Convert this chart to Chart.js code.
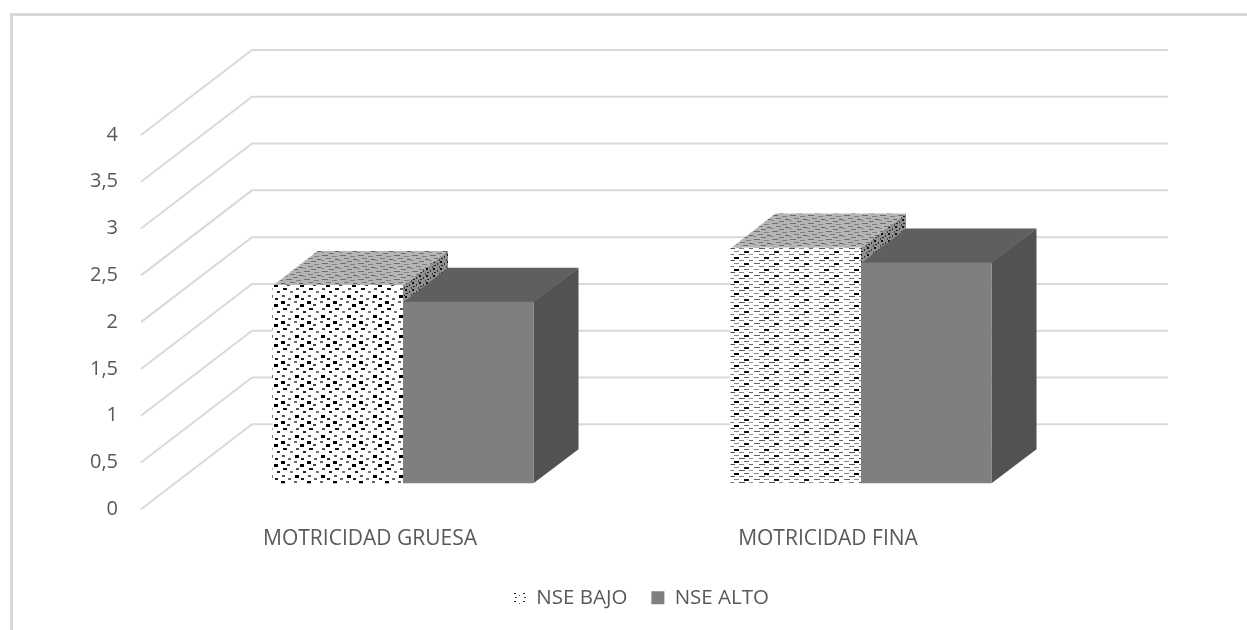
<!DOCTYPE html>
<html>
<head>
<meta charset="utf-8">
<title>Motricidad</title>
<script src="https://cdn.jsdelivr.net/npm/chart.js@4"></script>
<style>
    html, body { margin: 0; background: #fff; overflow: hidden; }
    #marco { position: absolute; left: 10px; top: 13px; right: 0; bottom: 0; border-top: 3px solid #d9d9d9; border-left: 3px solid #d9d9d9; }
    #grafico { position: absolute; left: 0; top: 0; }
</style>
</head>
<body>
<div id="marco"></div>
<canvas id="grafico" width="1247" height="630"></canvas>
<script>
const categorias = ["MOTRICIDAD GRUESA", "MOTRICIDAD FINA"];
const nseBajo = [2.12, 2.52];
const nseAlto = [1.94, 2.36];
const etiquetasY = ["0", "0,5", "1", "1,5", "2", "2,5", "3", "3,5", "4"];

const colorTexto = "#595959";
const colorGrid = "#d9d9d9";

// Desplazamientos de la perspectiva 3D
const fondo = { x: 111, y: -85 };   // pared trasera
const plano = { x: 33, y: -26 };    // plano frontal de las barras
const prof = { x: 45, y: -34 };     // profundidad de cada barra

// Trama hecha a mano: [x, y, ancho, alto, color]
function trama(ancho, alto, base, marcas) {
    const c = document.createElement("canvas");
    c.width = ancho;
    c.height = alto;
    const g = c.getContext("2d");
    g.fillStyle = base;
    g.fillRect(0, 0, ancho, alto);
    marcas.forEach(m => {
        g.fillStyle = m[4];
        g.fillRect(m[0], m[1], m[2], m[3]);
    });
    return g.createPattern(c, "repeat");
}

const puntos = trama(26, 20, "#ffffff", [
    [2, 1, 4, 3, "#000"], [15, 1, 3, 2, "#555"],
    [8, 4, 3, 2, "#222"], [21, 4, 3, 2, "#666"],
    [1, 7, 3, 2, "#666"], [14, 7, 4, 3, "#000"],
    [7, 10, 4, 3, "#000"], [20, 10, 3, 2, "#444"],
    [3, 14, 3, 2, "#555"], [16, 14, 4, 2, "#111"],
    [10, 17, 3, 2, "#222"], [23, 17, 3, 2, "#777"]
]);
const rayas = trama(30, 12, "#ffffff", [
    [1, 1, 6, 1, "#666"], [11, 1, 5, 1, "#888"], [21, 1, 5, 2, "#111"],
    [6, 4, 5, 1, "#777"], [16, 4, 6, 1, "#555"], [26, 4, 4, 1, "#999"],
    [1, 7, 5, 1, "#888"], [11, 7, 5, 2, "#000"], [21, 7, 5, 1, "#666"],
    [6, 10, 6, 1, "#555"], [16, 10, 5, 1, "#888"], [26, 10, 4, 1, "#666"]
]);
const tapa = trama(18, 8, "#b5b5b5", [
    [1, 1, 6, 1, "#6e6e6e"], [11, 2, 5, 1, "#808080"],
    [5, 4, 5, 1, "#777"], [14, 5, 4, 1, "#5f5f5f"],
    [0, 6, 3, 1, "#8a8a8a"], [8, 7, 5, 1, "#707070"]
]);
const costado = trama(7, 7, "#8f8f8f", [
    [1, 0, 2, 2, "#111"], [5, 2, 1, 2, "#333"],
    [2, 4, 2, 1, "#222"], [0, 5, 1, 2, "#444"]
]);
const leyendaTrama = trama(9, 8, "#ffffff", [
    [1, 1, 2, 1, "#222"], [6, 3, 1, 1, "#555"], [2, 5, 2, 1, "#444"]
]);

function carasLaterales(ctx, meta, ds) {
    meta.data.forEach(bar => {
        const l = bar.x - bar.width / 2;
        const r = bar.x + bar.width / 2;
        ctx.fillStyle = ds.colorCostado;
        ctx.beginPath();
        ctx.moveTo(r, bar.y);
        ctx.lineTo(r + prof.x, bar.y + prof.y);
        ctx.lineTo(r + prof.x, bar.base + prof.y);
        ctx.lineTo(r, bar.base);
        ctx.closePath();
        ctx.fill();
        // la tapa baja 1px por detras del frente para no dejar rendija
        ctx.fillStyle = ds.colorTapa;
        ctx.beginPath();
        ctx.moveTo(l, bar.y + 1);
        ctx.lineTo(l + prof.x, bar.y + prof.y);
        ctx.lineTo(r + prof.x, bar.y + prof.y);
        ctx.lineTo(r, bar.y + 1);
        ctx.closePath();
        ctx.fill();
    });
}

// Paredes, caras laterales y traslado de las barras al plano 3D
const perspectiva = {
    id: "perspectiva",
    afterLayout(chart) {
        // la leyenda va centrada en la pagina, no en el area del grafico
        const leyenda = chart.legend;
        const ancho = leyenda.right - leyenda.left;
        leyenda.left = 641 - ancho / 2;
        leyenda.right = leyenda.left + ancho;
        leyenda.top -= 5;
        leyenda.bottom -= 5;
    },
    beforeDatasetsDraw(chart) {
        const ctx = chart.ctx;
        const area = chart.chartArea;
        const y = chart.scales.y;
        ctx.save();
        ctx.strokeStyle = colorGrid;
        ctx.lineWidth = 2;
        y.ticks.forEach(t => {
            const py = y.getPixelForValue(t.value);
            ctx.beginPath();
            ctx.moveTo(area.left, py);
            ctx.lineTo(area.left + fondo.x, py + fondo.y);
            ctx.lineTo(area.right + fondo.x, py + fondo.y);
            ctx.stroke();
        });
        ctx.restore();
        ctx.save();
        ctx.translate(plano.x, plano.y);
    },
    beforeDatasetDraw(chart, args) {
        // NSE ALTO se pinta al final, delante de NSE BAJO
        if (args.index === 1) return false;
        carasLaterales(chart.ctx, args.meta, chart.data.datasets[0]);
    },
    afterDatasetsDraw(chart) {
        const meta = chart.getDatasetMeta(1);
        carasLaterales(chart.ctx, meta, chart.data.datasets[1]);
        meta.controller.draw();
        chart.ctx.restore();
    }
};

new Chart(document.getElementById("grafico").getContext("2d"), {
    type: "bar",
    plugins: [perspectiva],
    data: {
        labels: categorias,
        datasets: [
            {
                label: "NSE BAJO",
                data: nseBajo,
                clip: false,
                backgroundColor: [puntos, rayas],
                colorTapa: tapa,
                colorCostado: costado
            },
            {
                label: "NSE ALTO",
                data: nseAlto,
                clip: false,
                backgroundColor: "#7f7f7f",
                colorTapa: "#5f5f5f",
                colorCostado: "#525252"
            }
        ]
    },
    options: {
        responsive: false,
        animation: false,
        events: [],
        layout: { padding: { left: 81, right: 190, top: 135, bottom: 7 } },
        datasets: { bar: { categoryPercentage: 0.57, barPercentage: 1, borderWidth: 0 } },
        scales: {
            x: {
                grid: { display: false, drawTicks: false },
                border: { display: false },
                ticks: { color: colorTexto, font: { family: "Open Sans", size: 21 }, padding: 17, maxRotation: 0 }
            },
            y: {
                min: 0,
                max: 4,
                afterFit(scale) { scale.width = 60; },
                grid: { display: false, drawTicks: false },
                border: { display: false },
                afterBuildTicks(scale) {
                    scale.ticks = etiquetasY.map((_, i) => ({ value: i * 0.5 }));
                },
                ticks: {
                    color: colorTexto,
                    font: { family: "Open Sans", size: 20 },
                    padding: 23,
                    callback: (v, i) => etiquetasY[i]
                }
            }
        },
        plugins: {
            tooltip: { enabled: false },
            legend: {
                position: "bottom",
                labels: {
                    color: colorTexto,
                    font: { family: "Open Sans", size: 20.5 },
                    boxWidth: 13,
                    boxHeight: 13,
                    padding: 24,
                    generateLabels(chart) {
                        return chart.data.datasets.map((ds, i) => ({
                            text: ds.label,
                            datasetIndex: i,
                            fontColor: colorTexto,
                            fillStyle: i === 0 ? leyendaTrama : ds.backgroundColor,
                            strokeStyle: "transparent",
                            lineWidth: 0
                        }));
                    }
                }
            }
        }
    }
});
</script>
</body>
</html>
